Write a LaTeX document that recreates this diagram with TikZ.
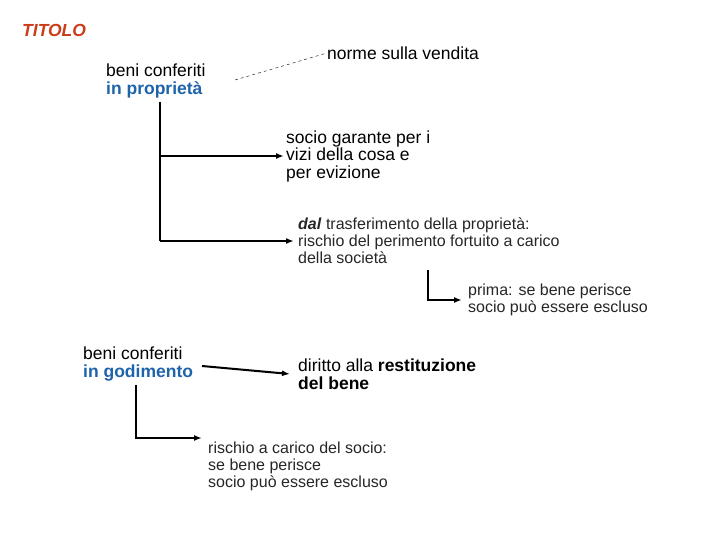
\documentclass[tikz,border=0pt]{standalone}
\usepackage{fontspec}
\setmainfont{Liberation Sans}
\usetikzlibrary{arrows.meta}
\definecolor{titred}{RGB}{205,60,25}
\definecolor{keyblue}{RGB}{30,100,170}
\tikzset{
  lbl/.style={anchor=west,align=left,inner sep=0pt,font=\fontsize{17.5}{17.5}\selectfont},
  smalltxt/.style={anchor=west,align=left,inner sep=0pt,text=black!85,font=\fontsize{16}{17}\selectfont},
  link/.style={line width=2pt,-{Latex[length=8pt,width=6pt]}}
}
\begin{document}
\begin{tikzpicture}[x=1pt,y=-1pt]
		\useasboundingbox (0,0) rectangle (720,540);
		\node [anchor=west,inner sep=0pt,text=titred,font=\fontsize{17.5}{17}\selectfont\bfseries\itshape] (tit) at (22,30) {TITOLO};
		% beni in proprieta
		\node [lbl] (prop) at (106,81) {beni conferiti\\ \textcolor{keyblue}{\bfseries in proprietà}};
		\node [lbl] (norme) at (327,53) {norme sulla vendita};
		\coordinate (d0) at (235,80);
		\draw [dashed,thin] (d0) -- (norme.west);
		\node [lbl] (gar) at (286,156) {socio garante per i\\vizi della cosa e\\per evizione};
		\node [smalltxt] (dal) at (298,241) {\textbf{\textit{dal}} trasferimento della proprietà:\\rischio del perimento fortuito a carico\\della società};
		\node [smalltxt] (prima) at (468,300) {prima: se bene perisce\\socio può essere escluso};
		\coordinate (p0) at (160,102);
		\coordinate (p1) at (160,156);
		\coordinate (p2) at (160,241);
		\draw [line width=2pt] (p0) -- (p2);
		\draw [link] (p1) -- ([xshift=-2pt]gar.west);
		\draw [link] (p2) -- ([xshift=-4pt]dal.west);
		\coordinate (q0) at (428,270);
		\draw [link] (q0) |- ([xshift=-6pt]prima.west);
		% beni in godimento
		\node [lbl] (god) at (83,364) {beni conferiti\\ \textcolor{keyblue}{\bfseries in godimento}};
		\node [lbl] (dir) at (298,374) {diritto alla \textbf{restituzione}\\\textbf{del bene}};
		\node [smalltxt] (risc) at (208,466) {rischio a carico del socio:\\se bene perisce\\socio può essere escluso};
		\coordinate (g0) at (202,366);
		\draw [link] (g0) -- ([xshift=-8pt]dir.west);
		\coordinate (r0) at (136,385);
		\draw [link] (r0) |- ([xshift=-6pt,yshift=28pt]risc.west);
	\end{tikzpicture}
\end{document}
